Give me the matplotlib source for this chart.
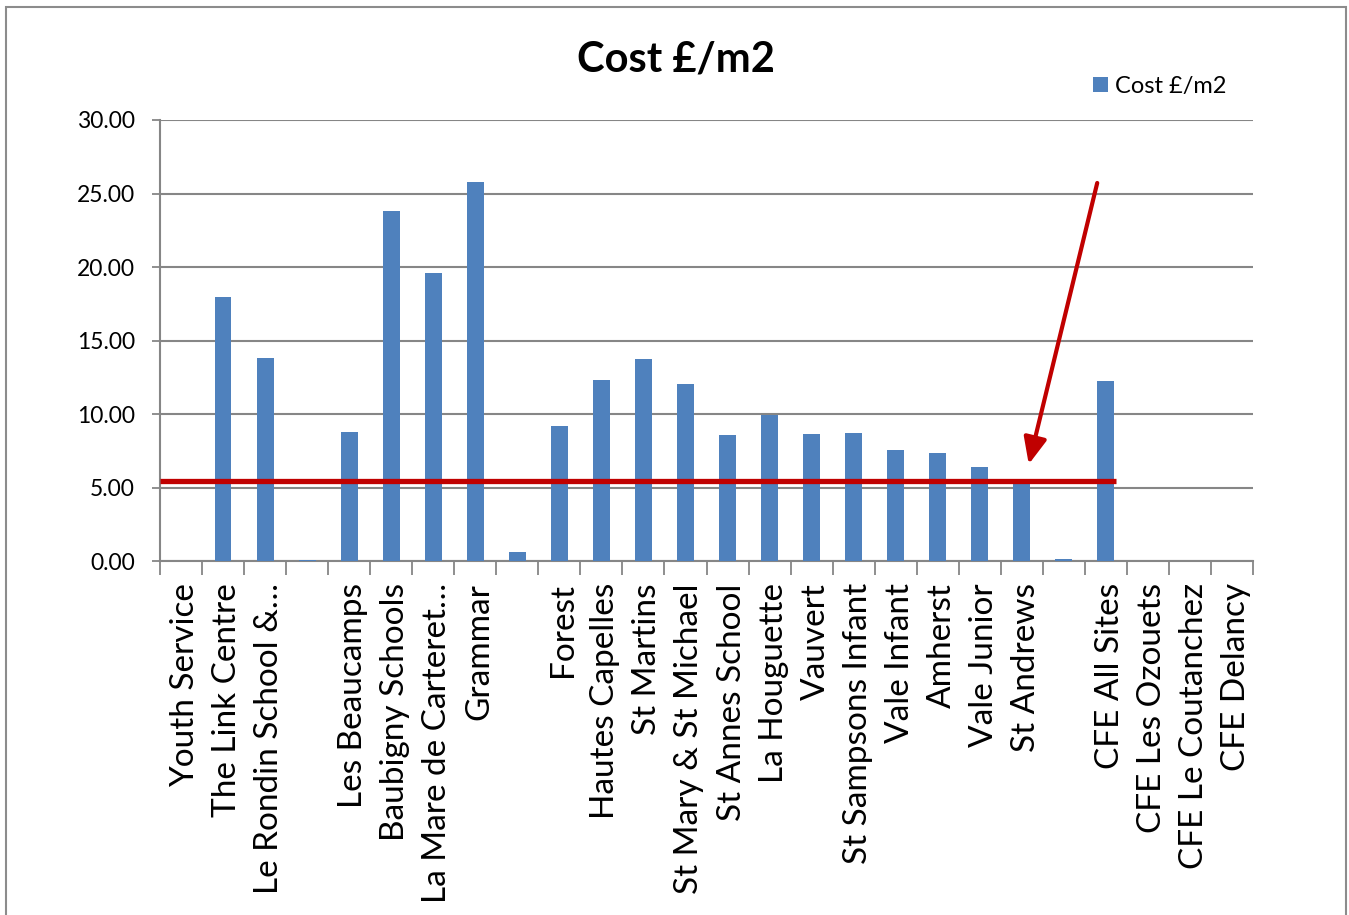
import matplotlib
matplotlib.use("Agg")
import matplotlib.pyplot as plt
import matplotlib.transforms as mtransforms
from matplotlib.patches import Rectangle, FancyArrowPatch
import numpy as np

plt.rcParams['font.family'] = ['Lato', 'DejaVu Sans']

categories = [
    "Youth Service", "The Link Centre", "Le Rondin School &…", "",
    "Les Beaucamps", "Baubigny Schools", "La Mare de Carteret…", "Grammar", "",
    "Forest", "Hautes Capelles", "St Martins", "St Mary & St Michael",
    "St Annes School", "La Houguette", "Vauvert", "St Sampsons Infant",
    "Vale Infant", "Amherst", "Vale Junior", "St Andrews", "",
    "CFE All Sites", "CFE Les Ozouets", "CFE Le Coutanchez", "CFE Delancy",
]
cost = [
    0.0, 17.95, 13.80, 0.05,
    8.78, 23.80, 19.60, 25.80, 0.60,
    9.18, 12.30, 13.74, 12.04,
    8.57, 9.93, 8.64, 8.70,
    7.55, 7.35, 6.39, 5.38, 0.15,
    12.24, 0.0, 0.0, 0.0,
]
benchmark = 5.44
yticks = [0, 5, 10, 15, 20, 25, 30]

bar_color = "#4F81BD"
grid_color = "#868686"
red = "#C00000"

fig = plt.figure(figsize=(13.49, 9.15), dpi=100)
ax = fig.add_axes([160 / 1349, 1 - 561 / 915, 1093 / 1349, 441 / 915])

x = np.arange(len(categories))
ax.bar(x, cost, width=0.4, color=bar_color, zorder=3, label="Cost £/m2")

ax.set_xlim(-0.5, len(categories) - 0.5)
ax.set_ylim(0, 30)
ax.set_yticks(yticks)
ax.set_yticklabels([f"{v:.2f}" for v in yticks], fontsize=16.5)
ax.yaxis.grid(True, color=grid_color, linewidth=1.5, zorder=0)
ax.tick_params(axis='y', length=6, width=1.3, color=grid_color, pad=12)

# category labels centred on bars, tick marks on slot boundaries
ax.set_xticks(x)
ax.set_xticklabels(categories, rotation=90, fontsize=24, va='top', ha='center')
ax.tick_params(axis='x', which='major', length=0, pad=16)
shift = mtransforms.ScaledTranslation(4 / 100, 0, fig.dpi_scale_trans)
for lbl in ax.get_xticklabels():
    lbl.set_transform(lbl.get_transform() + shift)
ax.set_xticks(np.arange(-0.5, len(categories)), minor=True)
ax.tick_params(axis='x', which='minor', length=10, width=1.3, color=grid_color)

for side in ('top', 'right'):
    ax.spines[side].set_visible(False)
for side in ('left', 'bottom'):
    ax.spines[side].set_color(grid_color)
    ax.spines[side].set_linewidth(1.5)

# benchmark line and pointer
ax.plot([-0.5, 22.25], [benchmark, benchmark], color=red, linewidth=3.8,
        zorder=4, solid_capstyle='butt')
arrow = FancyArrowPatch((21.81, 25.9), (20.15, 6.4),
                        arrowstyle='-|>,head_length=16,head_width=7',
                        mutation_scale=1, color=red, linewidth=3, zorder=5)
ax.add_patch(arrow)

fig.text(676 / 1349, 1 - 60 / 915, "Cost £/m2", fontsize=30, fontweight='bold',
         ha='center', va='center')

leg = fig.legend(loc='center left', bbox_to_anchor=(1084 / 1349, 1 - 86 / 915),
                 frameon=False, fontsize=17, handlelength=0.6, handleheight=0.6,
                 handletextpad=0.3, borderaxespad=0)

# chart frame
fig.patches.append(Rectangle((6 / 1349, -0.05), 1340 / 1349, 1.05 - 7 / 915,
                             transform=fig.transFigure, fill=False,
                             edgecolor="#8C8C8C", linewidth=1.5))

fig.savefig("out.png", dpi=100)
